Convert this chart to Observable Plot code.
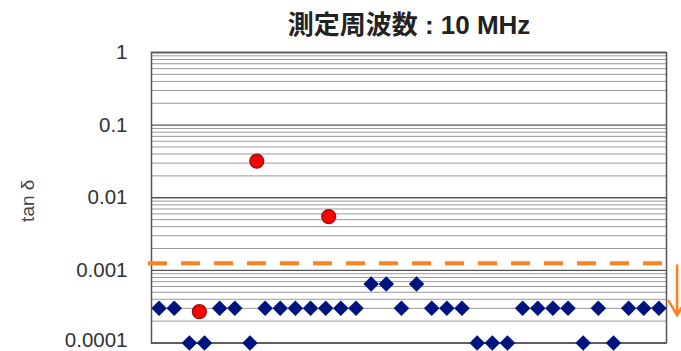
<!DOCTYPE html>
<html>
<head>
<meta charset="utf-8">
<script src="https://cdn.jsdelivr.net/npm/d3@7"></script>
<script src="https://cdn.jsdelivr.net/npm/@observablehq/plot@0.6"></script>
<style>
  html, body { margin: 0; padding: 0; background: #fff; }
  #chart { width: 681px; height: 351px; }
</style>
</head>
<body>
<div id="chart"></div>
<script>
// --- data ---
const title = "測定周波数 : 10 MHz";
const yLabel = "tan δ";
const yTicks = [1, 0.1, 0.01, 0.001, 0.0001];
// navy diamonds: sample index -> tan δ
const diamondIndex = [0,1,2,3,4,5,6,7,8,9,10,11,12,13,14,15,16,17,18,19,20,21,22,23,24,25,26,27,28,29,30,31,32,33];
const diamondValue = [0.0003,0.0003,0.0001,0.0001,0.0003,0.0003,0.0001,0.0003,0.0003,0.0003,0.0003,0.0003,0.0003,0.0003,0.00065,0.00065,0.0003,0.00065,0.0003,0.0003,0.0003,0.0001,0.0001,0.0001,0.0003,0.0003,0.0003,0.0003,0.0001,0.0003,0.0001,0.0003,0.0003,0.0003];
// red circles
const circleIndex = [2.66, 6.45, 11.2];
const circleValue = [0.00027, 0.032, 0.0055];
// threshold line
const threshold = 0.00125;
const arrowFrom = 0.00117;
const arrowTo = 0.00024;

const diamonds = diamondIndex.map((x, i) => ({x, y: diamondValue[i]}));
const circles = circleIndex.map((x, i) => ({x, y: circleValue[i]}));

// minor gridlines 2..9 per decade
const minorGrid = [];
for (let k = -4; k < 0; k++) for (let m = 2; m <= 9; m++) minorGrid.push(m * Math.pow(10, k));

const axisStyle = {tickSize: 0, tickPadding: 24, tickFormat: d => d.toString(),
  fontSize: 20.5, color: "#333", label: null};

const chart = Plot.plot({
  width: 681,
  height: 351,
  marginLeft: 151,
  marginRight: 15,
  marginTop: 52,
  marginBottom: 8.5,
  style: {fontFamily: "'Liberation Sans', Arial, sans-serif", background: "#fff"},
  x: {domain: [-0.5, 33.5], axis: null},
  y: {type: "log", domain: [0.0001, 1], axis: null},
  marks: [
    Plot.ruleY(minorGrid, {stroke: "#9a9a9a", strokeWidth: 1}),
    Plot.ruleY(yTicks, {stroke: "#555", strokeWidth: 1.3}),
    Plot.frame({stroke: "#555", strokeWidth: 1.5}),
    Plot.axisY({...axisStyle, ticks: yTicks.slice(0, 4)}),
    Plot.axisY({...axisStyle, ticks: yTicks.slice(4), dy: -3}),
    Plot.text([yLabel], {frameAnchor: "left", textAnchor: "middle", lineAnchor: "middle",
      dx: -124, dy: 3, rotate: -90, fontSize: 19, fill: "#444"}),
    Plot.text([title], {frameAnchor: "top", textAnchor: "middle", lineAnchor: "middle",
      dy: -27, fontSize: 26, fontWeight: "bold",
      fontFamily: "'Liberation Sans', 'Noto Sans CJK JP', sans-serif", fill: "#222"}),
    Plot.ruleY([threshold], {x1: -0.7, x2: 33.5, stroke: "#ff8021", strokeWidth: 4, strokeDasharray: "19 14"}),
    Plot.arrow([{x: 34.2, y1: arrowFrom, y2: arrowTo}], {x1: "x", x2: "x", y1: "y1", y2: "y2",
      stroke: "#ff8021", strokeWidth: 2.5, headLength: 12}),
    Plot.dot(diamonds, {x: "x", y: "y", symbol: "diamond2", r: 7, fill: "#001480", stroke: "none"}),
    Plot.dot(circles, {x: "x", y: "y", r: 7, fill: "#ff0000", stroke: "#8b1010", strokeWidth: 1.2})
  ]
});
document.getElementById("chart").appendChild(chart);
</script>
</body>
</html>
